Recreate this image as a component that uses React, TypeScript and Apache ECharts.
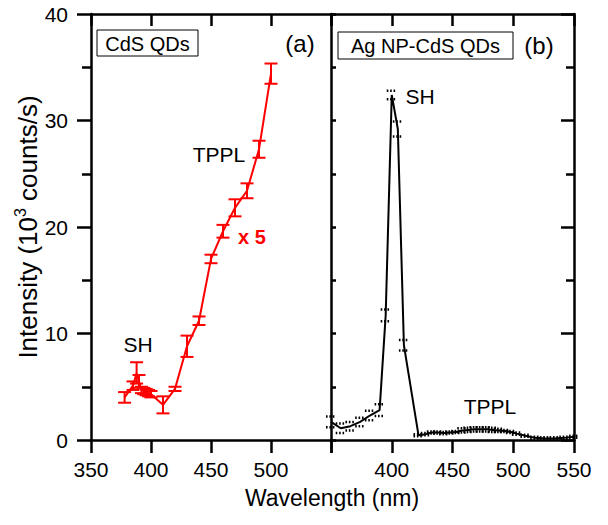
import React, { useEffect, useRef } from "react";
import * as echarts from "echarts";

// Panel (a): CdS QDs (x 5)
const aWavelength = [378, 385, 388, 390, 392, 394, 396, 398, 400, 410, 420, 430, 440, 450, 460, 470, 480, 490, 500];
const aIntensity = [4.0, 5.1, 6.3, 5.5, 4.7, 4.6, 4.5, 4.4, 4.3, 3.3, 4.8, 8.8, 11.2, 17.0, 19.6, 21.8, 23.4, 27.3, 34.4];
const aError = [0.5, 0.4, 1.0, 0.6, 0.3, 0.3, 0.3, 0.3, 0.3, 0.8, 0.2, 1.0, 0.4, 0.4, 0.6, 0.8, 0.7, 0.8, 0.95];

// Panel (b): Ag NP-CdS QDs
const bWavelength = [350, 358, 366, 374, 382, 390, 395, 400, 405, 410, 422, 428, 433, 438, 443, 448, 453, 458, 463, 468, 473, 478, 483, 488, 493, 498, 503, 510, 518, 526, 534, 542, 550];
const bIntensity = [1.7, 1.1, 1.3, 1.7, 2.3, 2.8, 11.7, 32.4, 29.2, 8.9, 0.45, 0.55, 0.7, 0.7, 0.65, 0.7, 0.75, 0.9, 0.95, 1.0, 1.0, 1.0, 0.95, 0.9, 0.85, 0.75, 0.6, 0.4, 0.2, 0.15, 0.15, 0.2, 0.3];
const bError = [0.5, 0.45, 0.4, 0.4, 0.45, 0.55, 0.55, 0.4, 0.7, 0.5, 0.1, 0.1, 0.1, 0.1, 0.1, 0.1, 0.1, 0.2, 0.2, 0.2, 0.2, 0.2, 0.2, 0.15, 0.1, 0.1, 0.1, 0.1, 0.1, 0.1, 0.1, 0.1, 0.1];

const xTicks = [350, 400, 450, 500, 550];
const yTicks = [0, 10, 20, 30, 40];

const FONT = "'Liberation Sans', Arial, sans-serif";

export default function App() {
  const ref = useRef<HTMLDivElement>(null);
  useEffect(() => {
    document.body.style.margin = "0";
    if (!ref.current) return;
    const chart = echarts.init(ref.current, null, { renderer: "svg" });
    const axisLine = { show: true, onZero: false, lineStyle: { color: "#000", width: 2.5 } };
    const label = { fontFamily: FONT, fontSize: 21, color: "#000" };

    const errSeries = (xi: number, yi: number, xs: number[], ys: number[], es: number[], color: string, dotted: boolean, hw: number) => ({
      type: "custom",
      xAxisIndex: xi,
      yAxisIndex: yi,
      z: 4,
      clip: false,
      data: xs.map((w, i) => [w, ys[i] - es[i], ys[i] + es[i]]),
      renderItem: (params: any, api: any) => {
        const lo = api.coord([api.value(0), api.value(1)]);
        const hi = api.coord([api.value(0), api.value(2)]);
        const style: any = { stroke: color, lineWidth: dotted ? 2.5 : 2, fill: null };
        if (dotted) style.lineDash = [1.6, 1.8];
        const children: any[] = [
          { type: "line", shape: { x1: lo[0] - hw, y1: lo[1], x2: lo[0] + hw, y2: lo[1] }, style },
          { type: "line", shape: { x1: hi[0] - hw, y1: hi[1], x2: hi[0] + hw, y2: hi[1] }, style },
        ];
        if (!dotted) children.push({ type: "line", shape: { x1: lo[0], y1: lo[1], x2: hi[0], y2: hi[1] }, style });
        return { type: "group", children };
      },
    });

    const txt = (x: number, y: number, text: string, size: number, color = "#000", bold = false) => ({
      type: "text", x, y,
      style: { text, font: `${bold ? "bold " : ""}${size}px ${FONT}`, fill: color, align: "center", verticalAlign: "middle" },
    });

    chart.setOption({
      animation: false,
      grid: [
        { left: 91, top: 14, width: 240, height: 426 },
        { left: 331, top: 14, width: 243, height: 426 },
      ],
      xAxis: [
        {
          gridIndex: 0, type: "value", min: 350, max: 550, interval: 50, position: "bottom",
          axisLine, splitLine: { show: false },
          axisTick: { show: true, inside: false, length: 13, lineStyle: { color: "#000", width: 2.5 } },
          axisLabel: { ...label, margin: 19, formatter: (v: number) => (xTicks.indexOf(v) >= 0 && v !== 550 ? String(v) : "") },
        },
        {
          gridIndex: 0, type: "value", min: 350, max: 550, interval: 50, position: "top",
          axisLine, splitLine: { show: false },
          axisTick: { show: true, inside: true, length: 12, lineStyle: { color: "#000", width: 2.5 } },
          axisLabel: { show: false },
        },
        {
          gridIndex: 1, type: "value", min: 350, max: 550, interval: 50, position: "bottom",
          axisLine, splitLine: { show: false },
          axisTick: { show: true, inside: false, length: 13, lineStyle: { color: "#000", width: 2.5 } },
          axisLabel: { ...label, margin: 19, formatter: (v: number) => (xTicks.indexOf(v) >= 0 && v !== 350 ? String(v) : "") },
        },
        {
          gridIndex: 1, type: "value", min: 350, max: 550, interval: 50, position: "top",
          axisLine, splitLine: { show: false },
          axisTick: { show: true, inside: true, length: 12, lineStyle: { color: "#000", width: 2.5 } },
          axisLabel: { show: false },
        },
      ],
      yAxis: [
        {
          gridIndex: 0, type: "value", min: 0, max: 40, interval: 10, position: "left",
          axisLine, splitLine: { show: false },
          axisTick: { show: true, inside: false, length: 14, lineStyle: { color: "#000", width: 2.5 } },
          minorTick: { show: true, splitNumber: 2, length: 9, lineStyle: { color: "#000", width: 2.5 } },
          axisLabel: { ...label, margin: 23, formatter: (v: number) => (yTicks.indexOf(v) >= 0 ? String(v) : "") },
          name: "{a|Intensity (10}{s|3}{a| counts/s)}",
          nameLocation: "middle",
          nameGap: 47,
          nameRotate: 90,
          nameTextStyle: {
            rich: {
              a: { fontFamily: FONT, fontSize: 26, color: "#000", lineHeight: 30 },
              s: { fontFamily: FONT, fontSize: 16, color: "#000", lineHeight: 30, verticalAlign: "top" },
            },
          },
        },
        {
          gridIndex: 1, type: "value", min: 0, max: 40, interval: 5, position: "left",
          axisLine, splitLine: { show: false },
          axisTick: { show: true, inside: true, length: 5, lineStyle: { color: "#000", width: 2.5 } },
          axisLabel: { show: false },
        },
        {
          gridIndex: 1, type: "value", min: 0, max: 40, interval: 10, position: "right",
          axisLine, splitLine: { show: false },
          axisTick: { show: true, inside: true, length: 13, lineStyle: { color: "#000", width: 2.5 } },
          minorTick: { show: true, splitNumber: 2, length: 8, lineStyle: { color: "#000", width: 2.5 } },
          axisLabel: { show: false },
        },
      ],
      series: [
        {
          type: "line", xAxisIndex: 0, yAxisIndex: 0, symbol: "none", z: 3,
          lineStyle: { color: "#ff0000", width: 2 },
          data: aWavelength.map((w, i) => [w, aIntensity[i]]),
        },
        errSeries(0, 0, aWavelength, aIntensity, aError, "#ff0000", false, 6.5),
        {
          type: "line", xAxisIndex: 2, yAxisIndex: 2, symbol: "none", z: 3,
          lineStyle: { color: "#000", width: 2 },
          data: bWavelength.map((w, i) => [w, bIntensity[i]]),
        },
        errSeries(2, 2, bWavelength, bIntensity, bError, "#000", true, 5),
      ],
      graphic: [
        { type: "rect", shape: { x: 97, y: 30, width: 101, height: 26 }, style: { fill: "#fff", stroke: "#000", lineWidth: 1 } },
        txt(147.5, 43.5, "CdS QDs", 20),
        txt(300, 43, "(a)", 24),
        { type: "rect", shape: { x: 338, y: 32, width: 175, height: 27 }, style: { fill: "#fff", stroke: "#000", lineWidth: 1 } },
        txt(425.5, 46, "Ag NP-CdS QDs", 20),
        txt(539, 45, "(b)", 24),
        txt(138, 344, "SH", 21),
        txt(219, 154, "TPPL", 21),
        txt(252, 237, "x 5", 20, "#ff0000", true),
        txt(420, 96, "SH", 21),
        txt(490, 406, "TPPL", 21),
        txt(332, 498, "Wavelength (nm)", 23),
      ],
    });
    return () => chart.dispose();
  }, []);
  return <div ref={ref} style={{ width: 608, height: 525 }} />;
}
